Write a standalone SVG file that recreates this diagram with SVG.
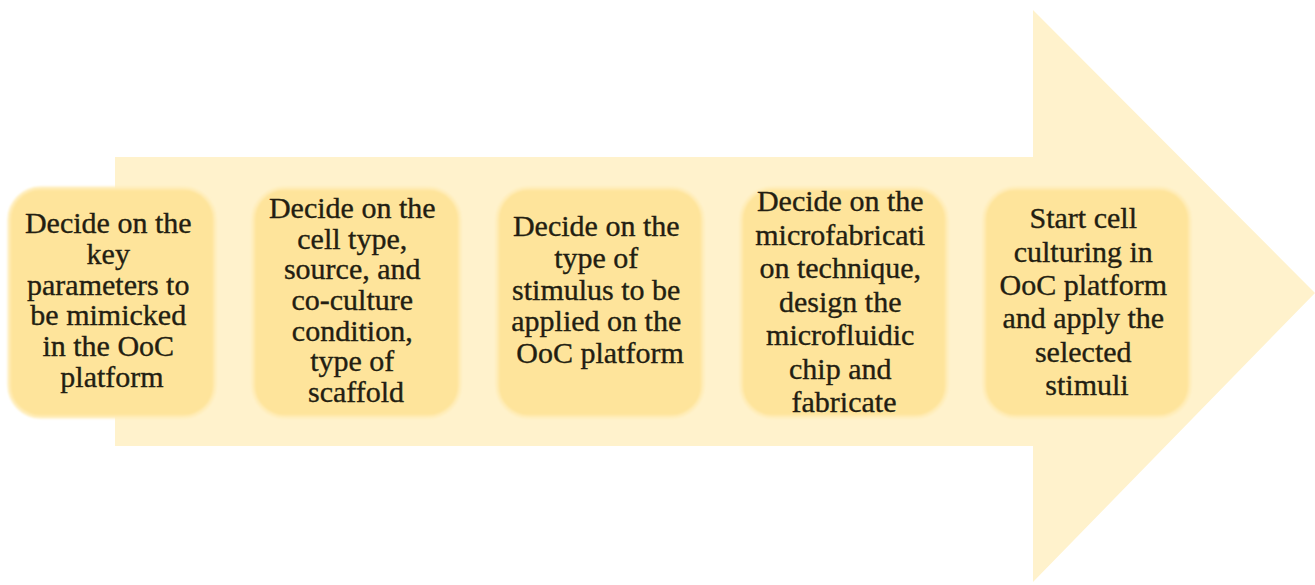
<svg xmlns="http://www.w3.org/2000/svg" width="1315" height="585" viewBox="0 0 1315 585">
  <defs>
    <filter id="soft" x="-5%" y="-5%" width="110%" height="110%">
      <feGaussianBlur stdDeviation="1"/>
    </filter>
  </defs>
  <style>
    .card { fill: #FEE49B; stroke: #FFEDB9; stroke-width: 3; filter: url(#soft); }
    .label { font-family: "Liberation Serif", "Times New Roman", serif; font-size: 30px; fill: #231E12; stroke: #231E12; stroke-width: 0.35; text-anchor: middle; }
  </style>
  <rect width="1315" height="585" fill="#FFFFFF"/>

  <!-- large block arrow behind the steps -->
  <g id="flow-arrow">
    <polygon points="115,157 1033,157 1033,10 1315,293 1033,582 1033,446 115,446" fill="#FFF2CC"/>
  </g>

  <g id="connectors"></g>

  <g id="step1">
    <rect class="card" x="9" y="188" width="206" height="229" rx="32"/>
    <text class="label" x="112">
      <tspan x="112" y="233">Decide on the</tspan>
      <tspan x="112" y="264">key</tspan>
      <tspan x="112" y="295">parameters to</tspan>
      <tspan x="112" y="325">be mimicked</tspan>
      <tspan x="112" y="356">in the OoC</tspan>
      <tspan x="112" y="387">platform</tspan>
    </text>
  </g>

  <g id="step2">
    <rect class="card" x="253" y="188" width="207" height="229" rx="32"/>
    <text class="label" x="356">
      <tspan x="356" y="218">Decide on the</tspan>
      <tspan x="356" y="249">cell type,</tspan>
      <tspan x="356" y="279">source, and</tspan>
      <tspan x="356" y="310">co-culture</tspan>
      <tspan x="356" y="341">condition,</tspan>
      <tspan x="356" y="371">type of</tspan>
      <tspan x="356" y="402">scaffold</tspan>
    </text>
  </g>

  <g id="step3">
    <rect class="card" x="497" y="188" width="206" height="229" rx="32"/>
    <text class="label" x="600">
      <tspan x="600" y="236">Decide on the</tspan>
      <tspan x="600" y="268">type of</tspan>
      <tspan x="600" y="300">stimulus to be</tspan>
      <tspan x="600" y="331">applied on the</tspan>
      <tspan x="600" y="363">OoC platform</tspan>
    </text>
  </g>

  <g id="step4">
    <rect class="card" x="741" y="188" width="206" height="229" rx="32"/>
    <text class="label" x="844">
      <tspan x="844" y="211">Decide on the</tspan>
      <tspan x="844" y="245">microfabricati</tspan>
      <tspan x="844" y="278">on technique,</tspan>
      <tspan x="844" y="312">design the</tspan>
      <tspan x="844" y="345">microfluidic</tspan>
      <tspan x="844" y="379">chip and</tspan>
      <tspan x="844" y="412">fabricate</tspan>
    </text>
  </g>

  <g id="step5">
    <rect class="card" x="984" y="188" width="206" height="229" rx="32"/>
    <text class="label" x="1087">
      <tspan x="1087" y="228">Start cell</tspan>
      <tspan x="1087" y="262">culturing in</tspan>
      <tspan x="1087" y="295">OoC platform</tspan>
      <tspan x="1087" y="328">and apply the</tspan>
      <tspan x="1087" y="362">selected</tspan>
      <tspan x="1087" y="395">stimuli</tspan>
    </text>
  </g>
</svg>
